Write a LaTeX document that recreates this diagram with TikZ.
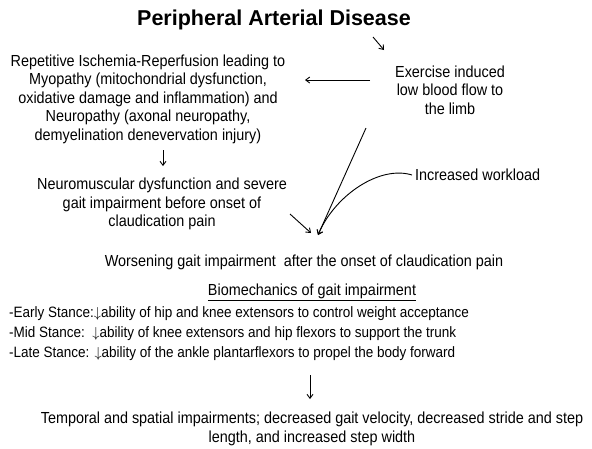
\documentclass[tikz,border=0pt]{standalone}
\usepackage{fontspec}
\setmainfont{Liberation Sans}
\newfontfamily\narrowsans{Liberation Sans}[FakeStretch=0.9]
\usetikzlibrary{arrows.meta, positioning}

\begin{document}
\begin{tikzpicture}[x=1pt, y=-1pt,
    txt/.style={font=\narrowsans\fontsize{16}{18.5}\selectfont, align=center, inner sep=0pt},
    arr/.style={-{Straight Barb[length=4pt,width=6pt]}, line width=0.9pt}]
        \useasboundingbox (0,0) rectangle (592,448);

        % Title
        \node[font=\bfseries\fontsize{21.5}{24}\selectfont, inner sep=0pt] (title) at (274,20) {Peripheral Arterial Disease};

        % Upper blocks
        \node[txt] (ischemia) at (148,99) {Repetitive Ischemia-Reperfusion leading to\\Myopathy (mitochondrial dysfunction,\\oxidative damage and inflammation) and\\Neuropathy (axonal neuropathy,\\demyelination denevervation injury)};
        \node[txt] (exercise) at (450,90) {Exercise induced\\low blood flow to\\the limb};
        \node[txt] (neuro) at (162,204) {Neuromuscular dysfunction and severe\\gait impairment before onset of\\claudication pain};
        \node[txt, anchor=west] (workload) at (415,175) {Increased workload};

        % Middle and lower blocks
        \node[txt] (worsening) at (304,262) {Worsening gait impairment\ \ after the onset of claudication pain};
        \node[txt] (biomech) at (312,292) {\underline{Biomechanics of gait impairment}};
        \node[txt, anchor=west, align=left, font=\narrowsans\fontsize{15}{20}\selectfont] (stances) at (9,334) {-Early Stance:$\downarrow$ability of hip and knee extensors to control weight acceptance\\-Mid Stance:\ \ $\downarrow$ability of knee extensors and hip flexors to support the trunk\\-Late Stance: $\downarrow$ability of the ankle plantarflexors to propel the body forward};
        \node[txt] (temporal) at (312,429) {Temporal and spatial impairments; decreased gait velocity, decreased stride and step\\length, and increased step width};

        % Arrow ends
        \coordinate (padA) at (373,37);
        \coordinate (padB) at (384,50);
        \coordinate (flowL) at (370,80);
        \coordinate (flowR) at (305,80);
        \coordinate (myoA) at (163,150);
        \coordinate (myoB) at (163,166);
        \coordinate (nmA) at (290,214);
        \coordinate (gaitTip) at (318,235);
        \coordinate (nmB) at (311,233);
        \coordinate (limbA) at (366,128);
        \coordinate (loadA) at (412,175);
        \coordinate (bioA) at (310,375);
        \coordinate (bioB) at (310,399);

        % Arrows
        \draw[arr] (padA) -- (padB);
        \draw[arr] (flowL) -- (flowR);
        \draw[arr] (myoA) -- (myoB);
        \draw[arr] (nmA) -- (nmB);
        \draw[arr] (limbA) -- (gaitTip);
        \draw[arr] (loadA) .. controls (380,165) and (335,195) .. (gaitTip);
        \draw[arr] (bioA) -- (bioB);
\end{tikzpicture}
\end{document}
